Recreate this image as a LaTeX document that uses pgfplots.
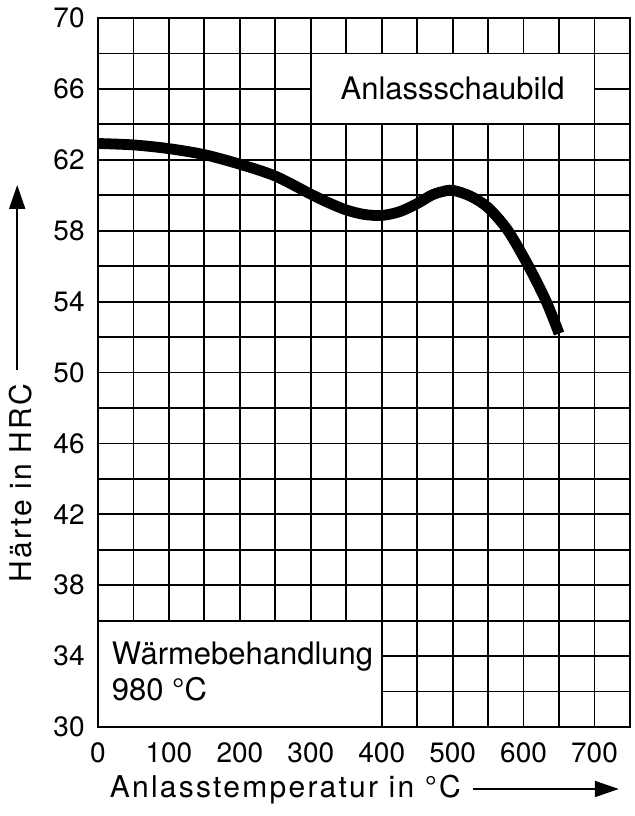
\documentclass[border=0pt]{standalone}
\usepackage{fontspec}
\setmainfont{TeX Gyre Heros}
\usepackage{pgfplots}
\pgfplotsset{compat=1.18}
\usetikzlibrary{arrows.meta}

\newcommand{\ticksize}{\fontsize{14}{16}\selectfont}
\newcommand{\boxsize}{\fontsize{15.5}{18}\selectfont}
\newcommand{\labsize}{\fontsize{15}{17}\selectfont\addfontfeatures{LetterSpace=7.5}}

\begin{document}
\begin{tikzpicture}
\useasboundingbox (-49pt,-44.5pt) rectangle (268pt,363.5pt);
\begin{axis}[
    at={(0,0)}, anchor=south west,
    width=266pt, height=354.5pt, scale only axis,
    xmin=0, xmax=750, ymin=30, ymax=70,
    xtick={0,100,...,700},
    ytick={30,34,...,70},
    minor x tick num=1,
    minor y tick num=1,
    grid=both,
    major grid style={black, line width=0.9pt},
    minor grid style={black, line width=0.9pt},
    axis line style={black, line width=1pt},
    tick style={draw=none},
    /pgf/number format/assume math mode=true,
    xticklabel style={font=\ticksize, inner sep=0pt, yshift=-7.5pt},
    yticklabel style={font=\ticksize, inner sep=0pt, xshift=-6.5pt},
]

% text boxes over the grid
\draw[line width=0.9pt, fill=white] (axis cs:300,64) rectangle (axis cs:700,68);
\node[font=\boxsize] at (axis cs:500,66) {Anlassschaubild};

\draw[line width=0.9pt, fill=white] (axis cs:0,30) rectangle (axis cs:400,36);
\node[font=\boxsize, anchor=base west, inner sep=0pt] at (axis cs:19,33.5) {Wärmebehandlung};
\node[font=\boxsize, anchor=base west, inner sep=0pt] at (axis cs:19,31.5) {980 °C};

% tempering curve
\addplot[black, line width=5.4pt, smooth, line cap=butt] coordinates {
    (0,62.92)
    (50,62.84)
    (100,62.63)
    (150,62.29)
    (200,61.75)
    (250,61.08)
    (300,60.06)
    (325,59.58)
    (350,59.17)
    (375,58.92)
    (400,58.86)
    (425,59.07)
    (450,59.53)
    (470,60.0)
    (485,60.2)
    (500,60.28)
    (525,59.95)
    (550,59.3)
    (578,58.0)
    (607,56.0)
    (632,54.0)
    (650,52.2)
};

\end{axis}

% axis labels with arrows
\node[font=\labsize, anchor=base west, inner sep=0pt] at (5.75pt,-35pt) {Anlasstemperatur in °C};
\draw[line width=1pt, -{Triangle[length=12pt, width=8pt]}] (187.3pt,-31pt) -- (260.4pt,-31pt);

\node[font=\labsize, rotate=90, anchor=base west, inner sep=0pt] at (-33pt,72pt) {Härte in HRC};
\draw[line width=1pt, -{Triangle[length=12pt, width=8pt]}] (-40.4pt,178.5pt) -- (-40.4pt,271pt);
\end{tikzpicture}
\end{document}
